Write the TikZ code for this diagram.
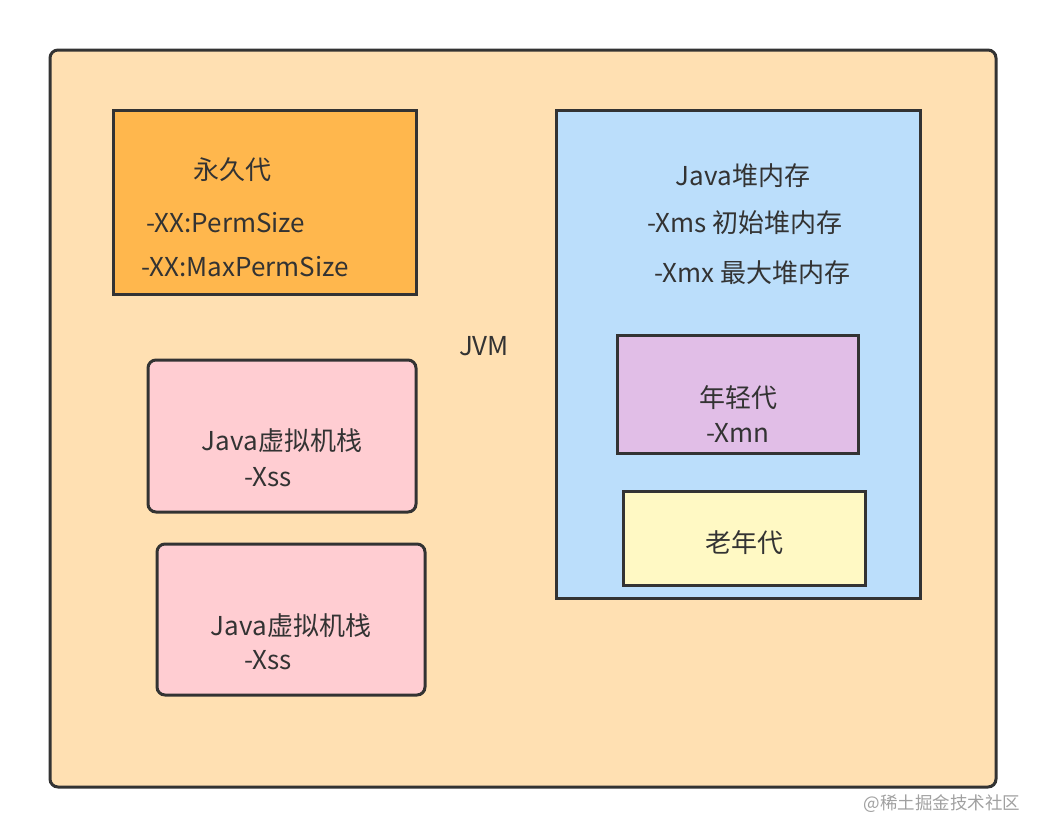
\documentclass[tikz,border=0pt]{standalone}
\usepackage{fontspec}
\setmainfont{Noto Sans CJK SC}
\usepackage{tikz}
\usetikzlibrary{positioning}
\definecolor{edge}{HTML}{333333}
\definecolor{jvmbg}{HTML}{FFE0B2}
\definecolor{permbg}{HTML}{FFB74D}
\definecolor{stackbg}{HTML}{FFCDD2}
\definecolor{heapbg}{HTML}{BBDEFB}
\definecolor{youngbg}{HTML}{E1BEE7}
\definecolor{oldbg}{HTML}{FFF9C4}
\definecolor{markgray}{HTML}{A0A0A0}

\begin{document}
\begin{tikzpicture}[
      x=1pt, y=-1pt,
      area/.style={rectangle, draw=edge, line width=3pt, inner sep=0pt},
      roundarea/.style={area, rounded corners=8pt},
      txt/.style={text=edge, font=\fontsize{26}{30}\selectfont, inner sep=0pt}
    ]
      \useasboundingbox (0,0) rectangle (1046,838);
      % outer JVM area
      \node[roundarea, fill=jvmbg, minimum width=946pt, minimum height=737pt] (jvm) at (523,418.5) {};
      \node[txt] (jvmlabel) at (484,346) {JVM};
      % permanent generation
      \node[area, fill=permbg, minimum width=303pt, minimum height=184pt] (perm) at (264.5,202) {};
      \node[txt] (permname) at (232,170) {永久代};
      \node[txt] (permsize) at (226,223) {-XX:PermSize};
      \node[txt] (maxperm) at (245,267) {-XX:MaxPermSize};
      % thread stacks
      \node[roundarea, fill=stackbg, minimum width=268pt, minimum height=152pt] (stackA) at (282,436) {};
      \node[txt] (stackAname) at (282,441) {Java虚拟机栈};
      \node[txt] (stackAxss) at (268,477) {-Xss};
      \node[roundarea, fill=stackbg, minimum width=268pt, minimum height=151pt] (stackB) at (291,619.5) {};
      \node[txt] (stackBname) at (291,626) {Java虚拟机栈};
      \node[txt] (stackBxss) at (268,660) {-Xss};
      % heap
      \node[area, fill=heapbg, minimum width=364pt, minimum height=488pt] (heap) at (738,354) {};
      \node[txt] (heapname) at (743,176) {Java堆内存};
      \node[txt] (heapxms) at (745,223) {-Xms 初始堆内存};
      \node[txt] (heapxmx) at (752,273) {-Xmx 最大堆内存};
      \node[area, fill=youngbg, minimum width=241pt, minimum height=118pt] (young) at (738,394) {};
      \node[txt] (youngname) at (738,398) {年轻代};
      \node[txt] (youngxmn) at (738,433) {-Xmn};
      \node[area, fill=oldbg, minimum width=242pt, minimum height=94pt] (old) at (744,538) {};
      \node[txt] (oldname) at (744,543) {老年代};
      % watermark
      \node[text=markgray, font=\fontsize{17.5}{20}\selectfont, inner sep=0pt] (mark) at (942,804) {@稀土掘金技术社区};
    \end{tikzpicture}
\end{document}
